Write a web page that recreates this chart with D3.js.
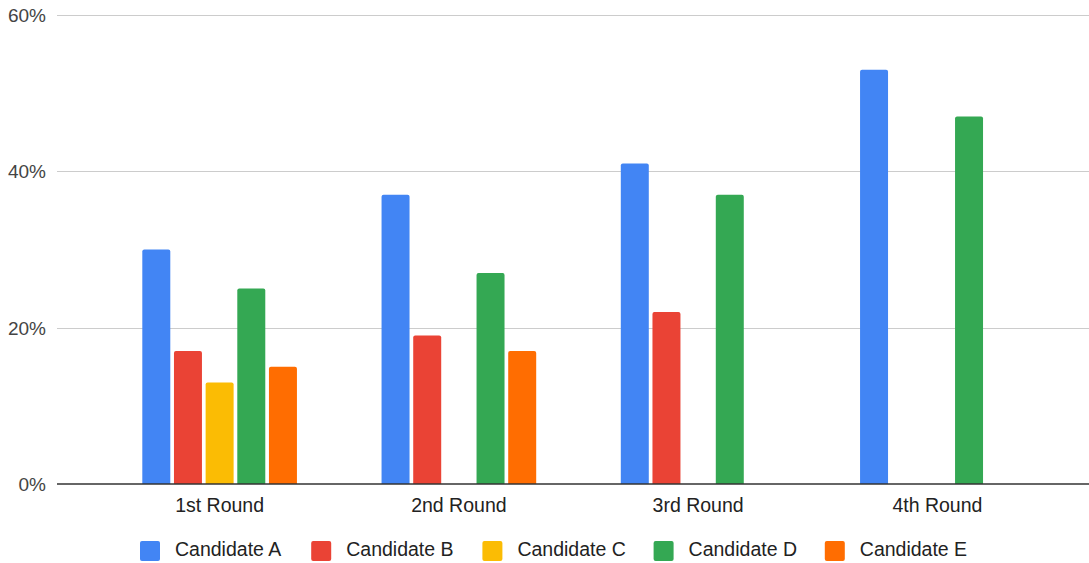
<!DOCTYPE html>
<html>
<head>
<meta charset="utf-8">
<script src="https://cdn.jsdelivr.net/npm/d3@7"></script>
<style>
  body { margin: 0; background: #fff; }
  svg { display: block; font-family: Arial, "Liberation Sans", sans-serif; }
</style>
</head>
<body>
<div id="chart"></div>
<script>
// Data
const rounds = ['1st Round', '2nd Round', '3rd Round', '4th Round'];
const candidates = ['Candidate A', 'Candidate B', 'Candidate C', 'Candidate D', 'Candidate E'];
const candidateA = [30, 37, 41, 53];
const candidateB = [17, 19, 22, null];
const candidateC = [13, null, null, null];
const candidateD = [25, 27, 37, 47];
const candidateE = [15, 17, null, null];
const yTicks = [0, 20, 40, 60];
const colors = ['#4285f4', '#ea4335', '#fbbc04', '#34a853', '#ff6d01'];

const series = [candidateA, candidateB, candidateC, candidateD, candidateE];

const W = 1089, H = 563;
const svg = d3.select('#chart').append('svg').attr('width', W).attr('height', H);

const y = d3.scaleLinear().domain([0, 60]).range([484, 15]);
const x0 = d3.scaleBand().domain(rounds).range([100, 1057]);
const x1 = d3.scaleBand().domain(candidates).range([0, x0.bandwidth()])
    .paddingInner(0.116).paddingOuter(1.336);
const color = d3.scaleOrdinal().domain(candidates).range(colors);

// gridlines
svg.append('g').selectAll('line').data(yTicks.filter(t => t > 0)).join('line')
    .attr('x1', 57).attr('x2', W)
    .attr('y1', d => Math.round(y(d)) + 0.5).attr('y2', d => Math.round(y(d)) + 0.5)
    .attr('stroke', '#cccccc').attr('stroke-width', 1);

// y labels
svg.append('g').selectAll('text').data(yTicks).join('text')
    .attr('x', 46).attr('y', d => y(d) + 7)
    .attr('text-anchor', 'end')
    .attr('font-size', 19).attr('fill', '#444')
    .text(d => d + '%');

// bars (rounded top corners)
const r = 2;
function barPath(x, yt, w, yb) {
    return `M${x},${yb}V${yt + r}Q${x},${yt} ${x + r},${yt}H${x + w - r}Q${x + w},${yt} ${x + w},${yt + r}V${yb}Z`;
}
const barData = [];
rounds.forEach((rd, i) => {
    candidates.forEach((c, j) => {
        const v = series[j][i];
        if (v != null) barData.push({ round: rd, cand: c, value: v });
    });
});
svg.append('g').selectAll('path').data(barData).join('path')
    .attr('d', d => barPath(x0(d.round) + x1(d.cand), y(d.value), x1.bandwidth(), y(0)))
    .attr('fill', d => color(d.cand));

// baseline
svg.append('line')
    .attr('x1', 57).attr('x2', W)
    .attr('y1', y(0)).attr('y2', y(0))
    .attr('stroke', '#333').attr('stroke-width', 1.5);

// x labels
svg.append('g').selectAll('text').data(rounds).join('text')
    .attr('x', d => x0(d) + x0.bandwidth() / 2)
    .attr('y', 511.5)
    .attr('text-anchor', 'middle')
    .attr('font-size', 19.5).attr('fill', '#222')
    .text(d => d);

// legend
const legend = svg.append('g').selectAll('g').data(candidates).join('g')
    .attr('transform', (d, i) => `translate(${140 + i * 171.2},541)`);
legend.append('rect')
    .attr('width', 20).attr('height', 20).attr('rx', 2)
    .attr('fill', d => color(d));
legend.append('text')
    .attr('x', 35).attr('y', 15)
    .attr('font-size', 19.5).attr('fill', '#222')
    .text(d => d);
</script>
</body>
</html>
